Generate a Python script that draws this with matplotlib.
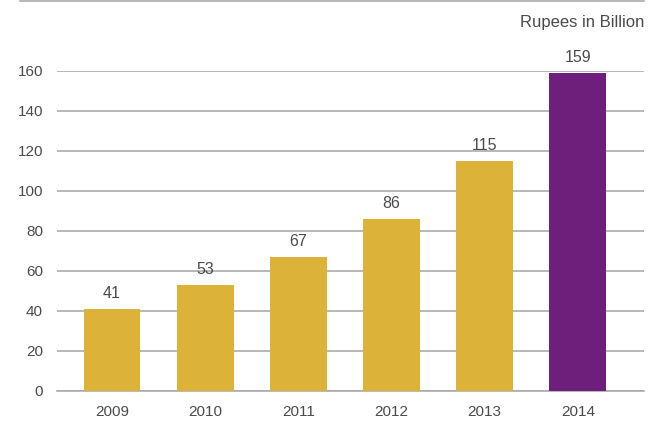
import matplotlib
matplotlib.use("Agg")
import matplotlib.pyplot as plt
from matplotlib.lines import Line2D

# data
years = ["2009", "2010", "2011", "2012", "2013", "2014"]
values = [41, 53, 67, 86, 115, 159]
bar_colors = ["#DDB238"] * 5 + ["#6E1F7C"]
yticks = [0, 20, 40, 60, 80, 100, 120, 140, 160]

plt.rcParams["font.family"] = ["Liberation Sans", "DejaVu Sans"]
text_color = "#4a4a4a"
grid_color = "#ababab"

fig = plt.figure(figsize=(6.56, 4.29), dpi=100)
ax = fig.add_axes([0.0869, 0.0886, 0.8948, 0.7459])

x = list(range(len(years)))
ax.bar(x, values, width=0.61, color=bar_colors, zorder=3)

# value labels above each bar
for xi, v in zip(x, values):
    ax.annotate(str(v), (xi, v), xytext=(0, 6),
                textcoords="offset points", ha="center", va="bottom",
                fontsize=11.5, color=text_color)

ax.set_xlim(-0.59, 5.71)
ax.set_ylim(0, 160)
ax.set_yticks(yticks)
ax.set_xticks(x)
ax.set_xticklabels(years)
ax.yaxis.grid(True, color=grid_color, linewidth=1.2, zorder=0)
ax.tick_params(axis="both", length=0, labelsize=11, colors=text_color)
ax.tick_params(axis="y", pad=10)
ax.tick_params(axis="x", pad=10)
for s in ["top", "right", "left"]:
    ax.spines[s].set_visible(False)
ax.spines["bottom"].set_color(grid_color)
ax.spines["bottom"].set_linewidth(1.2)

fig.text(0.9817, 0.948, "Rupees in Billion", ha="right", va="center",
         fontsize=12, color=text_color)

# thin rule at the very top of the figure
fig.add_artist(Line2D([20 / 656, 644 / 656], [0.998, 0.998],
                      color=grid_color, linewidth=1.2))

fig.savefig("out.png", dpi=100)
